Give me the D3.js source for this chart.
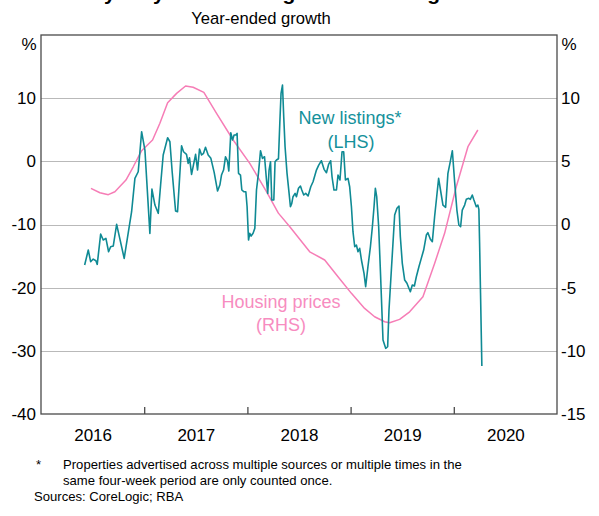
<!DOCTYPE html>
<html>
<head>
<meta charset="utf-8">
<script src="https://cdn.jsdelivr.net/npm/d3@7"></script>
<style>
html,body{margin:0;padding:0;background:#fff;}
svg{display:block;font-family:"Liberation Sans",Arial,sans-serif;}
</style>
</head>
<body>
<svg id="chart" width="599" height="516"></svg>
<script>
// ---- data ----
const titleText = "Sydney: New Listings and Housing Prices";
const subtitleText = "Year-ended growth";
const yearLabels = ["2016", "2017", "2018", "2019", "2020"];
const yearBoundaries = [2017, 2018, 2019, 2020];
const leftTicks = [-40, -30, -20, -10, 0, 10];
const rightTicks = [-15, -10, -5, 0, 5, 10];

const listingsTime = [2016.423,2016.458,2016.481,2016.506,2016.532,2016.545,2016.578,2016.603,2016.629,2016.655,2016.675,2016.700,2016.733,2016.806,2016.878,2016.910,2016.942,2016.975,2017.007,2017.055,2017.075,2017.104,2017.136,2017.159,2017.184,2017.227,2017.249,2017.271,2017.304,2017.323,2017.362,2017.381,2017.410,2017.426,2017.439,2017.459,2017.498,2017.517,2017.536,2017.556,2017.575,2017.594,2017.620,2017.646,2017.678,2017.711,2017.733,2017.749,2017.769,2017.788,2017.807,2017.820,2017.839,2017.856,2017.871,2017.888,2017.900,2017.914,2017.933,2017.946,2017.965,2017.985,2017.997,2018.011,2018.023,2018.036,2018.055,2018.072,2018.088,2018.107,2018.127,2018.146,2018.166,2018.185,2018.197,2018.210,2018.224,2018.236,2018.256,2018.268,2018.282,2018.301,2018.314,2018.326,2018.340,2018.352,2018.365,2018.384,2018.404,2018.417,2018.430,2018.442,2018.462,2018.475,2018.495,2018.514,2018.527,2018.546,2018.565,2018.588,2018.614,2018.636,2018.669,2018.691,2018.717,2018.743,2018.766,2018.788,2018.807,2018.820,2018.839,2018.863,2018.878,2018.897,2018.917,2018.933,2018.950,2018.975,2018.991,2019.008,2019.023,2019.040,2019.056,2019.072,2019.088,2019.105,2019.130,2019.146,2019.168,2019.192,2019.211,2019.227,2019.240,2019.253,2019.272,2019.291,2019.314,2019.340,2019.359,2019.372,2019.395,2019.427,2019.449,2019.469,2019.482,2019.501,2019.524,2019.546,2019.565,2019.579,2019.598,2019.618,2019.637,2019.662,2019.685,2019.708,2019.734,2019.749,2019.773,2019.792,2019.814,2019.836,2019.853,2019.879,2019.895,2019.921,2019.943,2019.966,2019.986,2020.008,2020.030,2020.049,2020.066,2020.082,2020.105,2020.121,2020.146,2020.160,2020.179,2020.195,2020.218,2020.233,2020.243,2020.250,2020.259,2020.272];
const listingsValue = [-16.42,-14.04,-15.89,-15.47,-15.74,-16.31,-11.51,-12.46,-12.19,-14.31,-13.52,-13.41,-9.97,-15.36,-7.98,-2.69,-1.65,4.69,1.79,-11.40,-4.39,-6.92,-8.23,-3.75,1.00,3.74,3.10,-1.65,-7.87,-7.98,2.47,1.52,1.11,-0.32,0.57,-2.06,1.11,-1.38,1.95,1.00,1.27,2.22,1.00,0.47,-1.74,-4.70,-3.75,-2.17,-1.38,0.73,0.05,-1.54,4.53,3.37,4.16,4.16,4.43,-1.90,-2.17,-4.54,-4.81,-4.81,-7.19,-12.46,-11.40,-11.83,-11.40,-10.61,-4.54,-1.90,1.68,0.47,0.73,-2.96,-5.07,-1.38,-0.06,-6.13,-6.13,-0.06,0.21,0.41,6.02,10.76,12.08,7.06,2.31,-1.90,-5.07,-7.19,-6.65,-5.60,-5.07,-5.60,-4.27,-3.91,-4.54,-5.33,-5.07,-5.49,-4.02,-3.23,-1.38,-0.59,0.09,-1.27,-1.80,-0.43,0.09,-2.44,-4.54,-4.54,-2.17,-2.96,1.52,1.52,-2.96,-2.69,-4.02,-7.19,-11.14,-13.52,-13.25,-14.31,-13.77,-15.62,-17.73,-19.85,-16.69,-13.52,-10.35,-7.19,-4.27,-5.60,-10.35,-18.27,-28.29,-29.60,-29.35,-23.54,-17.21,-8.50,-7.44,-7.08,-11.94,-16.15,-18.79,-19.31,-20.10,-20.64,-19.58,-19.74,-18.27,-16.69,-15.36,-14.04,-11.67,-11.30,-12.35,-12.73,-8.77,-5.33,-2.69,-5.33,-6.92,-7.28,-1.90,-0.06,1.68,-3.23,-7.71,-10.08,-10.35,-7.71,-6.92,-6.02,-5.86,-6.02,-5.33,-6.13,-7.19,-6.92,-7.60,-12.98,-20.90,-32.40];

const pricesTime = [2016.484,2016.571,2016.652,2016.716,2016.823,2016.894,2016.975,2017.081,2017.152,2017.227,2017.314,2017.401,2017.474,2017.578,2017.701,2017.862,2018.023,2018.185,2018.300,2018.411,2018.604,2018.749,2018.878,2019.008,2019.136,2019.233,2019.330,2019.378,2019.475,2019.572,2019.701,2019.814,2019.911,2020.024,2020.137,2020.233];
const pricesValue = [2.86,2.51,2.36,2.59,3.52,4.57,5.84,6.69,8.01,9.64,10.38,10.96,10.86,10.46,8.80,6.69,4.84,2.60,0.90,-0.18,-2.16,-2.81,-4.14,-5.45,-6.64,-7.30,-7.70,-7.78,-7.51,-6.91,-5.72,-3.08,-0.70,2.99,6.16,7.48];

// ---- layout ----
const W = 599, H = 516;
const plot = {left: 41, right: 557, top: 35, bottom: 414};
const tealColor = "#0f8a94";
const pinkColor = "#f67db6";
const axisColor = "#4a4a4a";
const gridColor = "#b9b9b9";
const fontFam = "'Liberation Sans',Arial,sans-serif";

const svg = d3.select("#chart");
svg.append("rect").attr("width", W).attr("height", H).attr("fill", "#fff");

const x = d3.scaleLinear().domain([2016, 2021]).range([plot.left, plot.right]);
const yL = d3.scaleLinear().domain([-40, 20]).range([plot.bottom, plot.top]);
const yR = d3.scaleLinear().domain([-15, 15]).range([plot.bottom, plot.top]);
const fmt = d => String(d); // plain hyphen-minus like the reference

// title (cropped at the top edge in the reference) and subtitle
svg.append("text").attr("x", W / 2).attr("y", 0).attr("text-anchor", "middle")
  .attr("font-size", 21).attr("font-weight", "bold").attr("fill", "#000").text(titleText);
svg.append("text").attr("x", 261).attr("y", 24).attr("text-anchor", "middle")
  .attr("font-size", 16.6).attr("fill", "#000").text(subtitleText);

// gridlines
svg.append("g").selectAll("line")
  .data(leftTicks.filter(d => d > -40 && d < 20))
  .join("line")
  .attr("x1", plot.left).attr("x2", plot.right)
  .attr("y1", d => Math.round(yL(d)) + 0.5).attr("y2", d => Math.round(yL(d)) + 0.5)
  .attr("stroke", gridColor).attr("stroke-width", 1.2);

// left axis
const leftAxis = d3.axisLeft(yL).tickValues(leftTicks).tickSize(0).tickPadding(5).tickFormat(fmt);
const gL = svg.append("g").attr("transform", `translate(${plot.left},0)`).call(leftAxis);
gL.select(".domain").remove();
gL.selectAll("text").attr("font-size", 17).attr("fill", "#000").attr("font-family", fontFam);

// right axis
const rightAxis = d3.axisRight(yR).tickValues(rightTicks).tickSize(0).tickPadding(4).tickFormat(fmt);
const gR = svg.append("g").attr("transform", `translate(${plot.right},0)`).call(rightAxis);
gR.select(".domain").remove();
gR.selectAll("text").attr("font-size", 17).attr("fill", "#000").attr("font-family", fontFam);

// % unit labels
svg.append("text").attr("x", 29).attr("y", 50).attr("text-anchor", "middle")
  .attr("font-size", 17).text("%");
svg.append("text").attr("x", 569).attr("y", 50).attr("text-anchor", "middle")
  .attr("font-size", 17).text("%");

// x axis: inward tick marks at year boundaries, labels mid-year
const xTicks = d3.axisBottom(x).tickValues(yearBoundaries).tickSize(-7).tickFormat("");
const gX = svg.append("g").attr("transform", `translate(0,${plot.bottom})`).call(xTicks);
gX.select(".domain").remove();
gX.selectAll("line").attr("stroke", axisColor).attr("stroke-width", 1.3);

const xLabels = d3.axisBottom(x).tickValues(yearLabels.map(d => +d + 0.5)).tickSize(0)
  .tickPadding(15).tickFormat((d, i) => yearLabels[i]);
const gXL = svg.append("g").attr("transform", `translate(0,${plot.bottom})`).call(xLabels);
gXL.select(".domain").remove();
gXL.selectAll("text").attr("font-size", 17).attr("fill", "#000").attr("font-family", fontFam);

// series
const listings = d3.zip(listingsTime, listingsValue);
const prices = d3.zip(pricesTime, pricesValue);

svg.append("path").datum(prices)
  .attr("fill", "none").attr("stroke", pinkColor).attr("stroke-width", 1.5)
  .attr("stroke-linejoin", "round")
  .attr("d", d3.line().x(d => x(d[0])).y(d => yR(d[1])));

svg.append("path").datum(listings)
  .attr("fill", "none").attr("stroke", tealColor).attr("stroke-width", 1.6)
  .attr("stroke-linejoin", "round")
  .attr("d", d3.line().x(d => x(d[0])).y(d => yL(d[1])));

// frame
svg.append("rect").attr("x", plot.left).attr("y", plot.top)
  .attr("width", plot.right - plot.left).attr("height", plot.bottom - plot.top)
  .attr("fill", "none").attr("stroke", axisColor).attr("stroke-width", 1.3);

// annotations
svg.append("text").attr("x", 350).attr("y", 124).attr("text-anchor", "middle")
  .attr("font-size", 18).attr("fill", "#14919b").text("New listings*");
svg.append("text").attr("x", 351).attr("y", 148).attr("text-anchor", "middle")
  .attr("font-size", 18).attr("fill", "#14919b").text("(LHS)");
svg.append("text").attr("x", 281).attr("y", 308).attr("text-anchor", "middle")
  .attr("font-size", 18).attr("fill", "#f78cc0").text("Housing prices");
svg.append("text").attr("x", 281).attr("y", 331).attr("text-anchor", "middle")
  .attr("font-size", 18).attr("fill", "#f78cc0").text("(RHS)");

// footnotes
svg.append("text").attr("x", 36).attr("y", 469).attr("font-size", 13.1).text("*");
svg.append("text").attr("x", 63).attr("y", 469).attr("font-size", 13.1)
  .text("Properties advertised across multiple sources or multiple times in the");
svg.append("text").attr("x", 63).attr("y", 485).attr("font-size", 13.1)
  .text("same four-week period are only counted once.");
svg.append("text").attr("x", 34).attr("y", 501).attr("font-size", 13.1)
  .text("Sources: CoreLogic; RBA");
</script>
</body>
</html>
